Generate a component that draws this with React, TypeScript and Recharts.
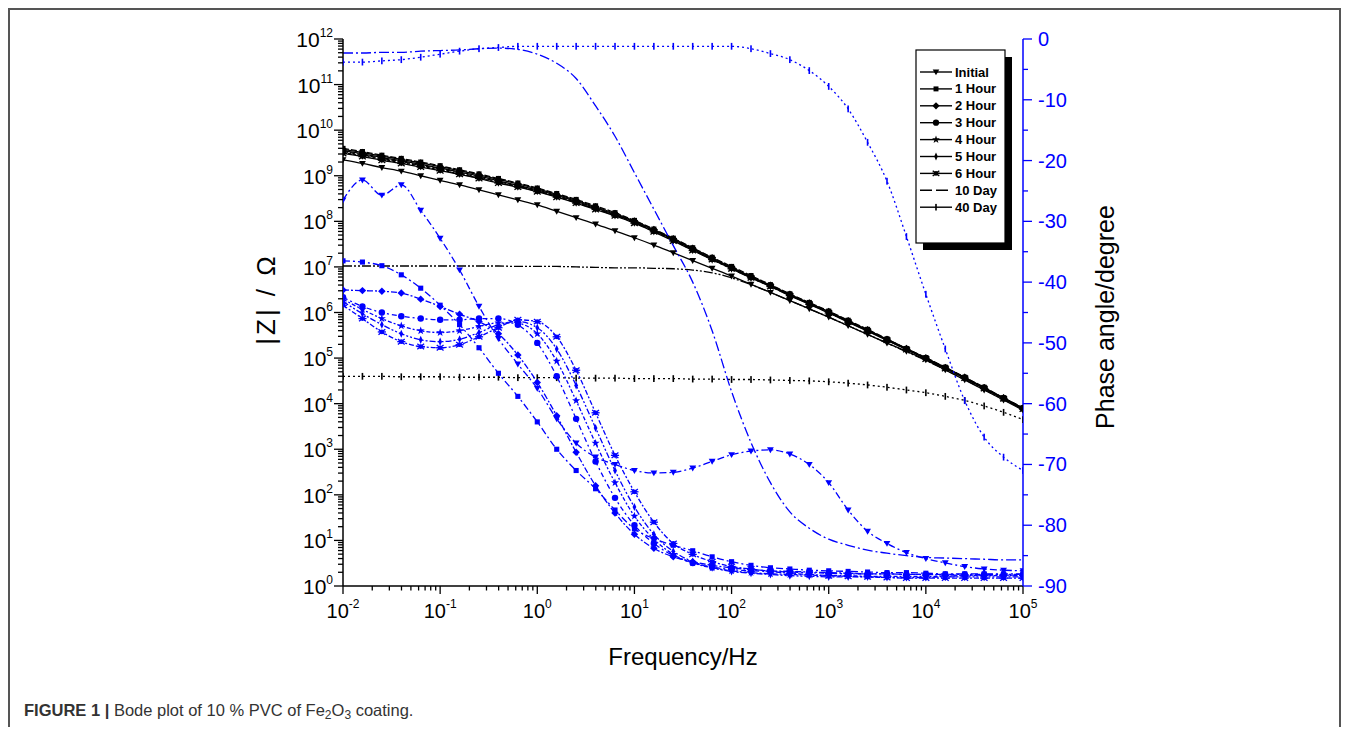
import React from "react";
import { LineChart, Line, XAxis, YAxis } from "recharts";

const FONT = "'Liberation Sans', Arial, Helvetica, sans-serif";
const BLUE = "#0000ff";

// ---------- DATA ----------
const freqHz = [
  0.01, 0.01585, 0.02512, 0.03981, 0.0631, 0.1, 0.1585, 0.2512, 0.3981, 0.631,
  1, 1.585, 2.512, 3.981, 6.31, 10, 15.85, 25.12, 39.81, 63.1,
  100, 158.5, 251.2, 398.1, 631, 1000, 1585, 2512, 3981, 6310,
  10000, 15850, 25120, 39810, 63100, 100000,
];

const seriesNames = ["Initial", "1 Hour", "2 Hour", "3 Hour", "4 Hour", "5 Hour", "6 Hour", "10 Day", "40 Day"];

// log10(|Z| / Ohm)
const logZInitial = [9.35, 9.27, 9.18, 9.10, 9.00, 8.90, 8.80, 8.69, 8.58, 8.47, 8.36, 8.22, 8.08, 7.94, 7.79, 7.64, 7.48, 7.31, 7.14, 6.97, 6.80, 6.62, 6.44, 6.26, 6.08, 5.90, 5.71, 5.52, 5.33, 5.15, 4.96, 4.74, 4.52, 4.30, 4.08, 3.86];
const logZ1h = [9.60, 9.53, 9.45, 9.38, 9.30, 9.22, 9.13, 9.04, 8.94, 8.84, 8.73, 8.61, 8.48, 8.34, 8.19, 8.02, 7.83, 7.63, 7.42, 7.21, 7.01, 6.81, 6.61, 6.41, 6.22, 6.03, 5.83, 5.63, 5.42, 5.21, 5.01, 4.80, 4.58, 4.36, 4.13, 3.91];
const logZ2h = [9.58, 9.51, 9.43, 9.36, 9.28, 9.20, 9.11, 9.02, 8.92, 8.82, 8.71, 8.59, 8.46, 8.32, 8.17, 8.01, 7.82, 7.62, 7.41, 7.20, 6.99, 6.79, 6.60, 6.40, 6.21, 6.02, 5.82, 5.62, 5.41, 5.21, 5.00, 4.79, 4.58, 4.35, 4.13, 3.90];
const logZ3h = [9.55, 9.48, 9.40, 9.33, 9.25, 9.17, 9.08, 8.99, 8.89, 8.79, 8.69, 8.57, 8.44, 8.30, 8.15, 7.99, 7.80, 7.60, 7.39, 7.18, 6.98, 6.78, 6.59, 6.39, 6.20, 6.01, 5.81, 5.61, 5.41, 5.20, 5.00, 4.79, 4.57, 4.35, 4.12, 3.90];
const logZ4h = [9.53, 9.46, 9.38, 9.31, 9.23, 9.15, 9.06, 8.97, 8.87, 8.77, 8.67, 8.55, 8.42, 8.28, 8.14, 7.98, 7.79, 7.59, 7.38, 7.17, 6.97, 6.77, 6.58, 6.38, 6.19, 6.00, 5.80, 5.60, 5.40, 5.20, 4.99, 4.78, 4.57, 4.34, 4.12, 3.89];
const logZ5h = [9.51, 9.44, 9.36, 9.29, 9.21, 9.13, 9.04, 8.95, 8.85, 8.76, 8.66, 8.54, 8.41, 8.27, 8.13, 7.97, 7.78, 7.58, 7.37, 7.16, 6.96, 6.76, 6.57, 6.38, 6.19, 6.00, 5.80, 5.60, 5.40, 5.19, 4.99, 4.78, 4.56, 4.34, 4.11, 3.89];
const logZ6h = [9.49, 9.42, 9.34, 9.27, 9.19, 9.11, 9.03, 8.94, 8.84, 8.75, 8.65, 8.53, 8.40, 8.26, 8.12, 7.96, 7.77, 7.57, 7.36, 7.16, 6.96, 6.76, 6.57, 6.37, 6.18, 5.99, 5.79, 5.59, 5.39, 5.19, 4.98, 4.77, 4.56, 4.33, 4.11, 3.88];
const logZ10d = [7.02, 7.02, 7.02, 7.02, 7.02, 7.02, 7.02, 7.02, 7.02, 7.01, 7.01, 7.01, 7.00, 6.99, 6.98, 6.98, 6.97, 6.96, 6.93, 6.87, 6.76, 6.61, 6.44, 6.26, 6.08, 5.90, 5.71, 5.52, 5.33, 5.14, 4.95, 4.74, 4.53, 4.31, 4.09, 3.88];
const logZ40d = [4.60, 4.60, 4.60, 4.59, 4.59, 4.59, 4.58, 4.58, 4.58, 4.57, 4.57, 4.57, 4.56, 4.56, 4.56, 4.55, 4.55, 4.55, 4.54, 4.54, 4.53, 4.53, 4.52, 4.51, 4.50, 4.48, 4.45, 4.41, 4.36, 4.30, 4.24, 4.16, 4.07, 3.95, 3.81, 3.65];

// Phase angle, degree
const phInitial = [-26.5, -23.2, -25.7, -24.0, -28.2, -32.8, -38.0, -44.0, -49.3, -53.5, -57.5, -62.5, -66.5, -68.8, -70.0, -71.0, -71.4, -71.3, -70.6, -69.5, -68.4, -67.8, -67.6, -68.3, -70.0, -73.0, -77.5, -81.0, -83.0, -84.5, -85.5, -86.2, -86.8, -87.2, -87.4, -87.5];
const ph1h = [-36.5, -36.7, -37.3, -38.8, -41.0, -43.8, -47.0, -50.8, -55.0, -58.8, -63.0, -67.5, -71.0, -74.0, -77.5, -80.6, -82.2, -83.3, -84.2, -85.2, -86.0, -86.6, -87.0, -87.2, -87.4, -87.5, -87.6, -87.7, -87.8, -87.8, -87.9, -88.0, -88.0, -88.0, -88.0, -88.0];
const ph2h = [-41.3, -41.4, -41.5, -41.8, -42.8, -44.0, -45.3, -46.5, -48.5, -52.0, -56.5, -62.0, -68.0, -73.5, -78.0, -81.5, -83.8, -85.2, -86.0, -86.6, -87.0, -87.3, -87.5, -87.6, -87.7, -87.8, -87.9, -88.0, -88.0, -88.1, -88.1, -88.2, -88.2, -88.2, -88.2, -88.2];
const ph3h = [-42.5, -44.0, -45.0, -45.6, -46.0, -46.2, -46.2, -46.0, -46.0, -47.0, -50.0, -55.5, -62.5, -69.5, -75.5, -80.0, -83.0, -85.0, -86.2, -86.9, -87.3, -87.5, -87.6, -87.7, -87.8, -87.9, -88.0, -88.0, -88.0, -88.1, -88.1, -88.1, -88.1, -88.1, -88.1, -88.1];
const ph4h = [-42.8, -44.5, -46.0, -47.2, -48.0, -48.3, -48.0, -47.3, -46.7, -46.8, -48.5, -53.0, -59.5, -66.5, -73.0, -78.5, -82.3, -84.8, -86.2, -87.0, -87.5, -87.8, -88.0, -88.1, -88.2, -88.3, -88.3, -88.4, -88.4, -88.4, -88.4, -88.4, -88.3, -88.3, -88.3, -88.3];
const ph5h = [-43.2, -45.2, -47.0, -48.5, -49.5, -49.8, -49.4, -48.3, -47.0, -46.5, -47.5, -51.0, -57.0, -64.0, -71.0, -77.0, -81.5, -84.3, -86.0, -87.0, -87.6, -87.9, -88.1, -88.3, -88.4, -88.5, -88.5, -88.5, -88.6, -88.6, -88.6, -88.5, -88.5, -88.5, -88.5, -88.5];
const ph6h = [-43.8, -46.0, -48.2, -49.8, -50.6, -50.8, -50.3, -49.0, -47.5, -46.2, -46.5, -49.0, -54.5, -61.5, -68.5, -74.5, -79.5, -83.0, -84.8, -86.0, -86.8, -87.2, -87.6, -87.9, -88.1, -88.3, -88.4, -88.5, -88.6, -88.7, -88.7, -88.7, -88.7, -88.7, -88.7, -88.7];
const ph10d = [-2.3, -2.3, -2.2, -2.2, -2.0, -1.9, -1.8, -1.6, -1.5, -1.7, -2.5, -4.0, -6.5, -11.0, -16.0, -22.0, -28.0, -34.0, -40.0, -48.0, -58.0, -66.4, -73.0, -77.8, -80.5, -82.3, -83.3, -84.1, -84.6, -85.0, -85.3, -85.4, -85.5, -85.6, -85.7, -85.7];
const ph40d = [-3.8, -3.8, -3.6, -3.4, -3.0, -2.5, -2.0, -1.6, -1.4, -1.2, -1.2, -1.2, -1.2, -1.2, -1.2, -1.2, -1.2, -1.2, -1.2, -1.2, -1.2, -1.6, -2.4, -3.4, -5.2, -7.8, -11.5, -17.0, -23.4, -32.5, -42.0, -51.0, -59.5, -65.5, -68.8, -71.0];

const xMajorTicks = [0.01, 0.1, 1, 10, 100, 1000, 10000, 100000];
const zMajorTicks = [1, 10, 100, 1e3, 1e4, 1e5, 1e6, 1e7, 1e8, 1e9, 1e10, 1e11, 1e12];
const phaseTicks = [-90, -85, -80, -75, -70, -65, -60, -55, -50, -45, -40, -35, -30, -25, -20, -15, -10, -5, 0];
const minorMultipliers = [2, 3, 4, 5, 6, 7, 8, 9];

// ---------- BUILD TABLE ----------
const zLogs = [logZInitial, logZ1h, logZ2h, logZ3h, logZ4h, logZ5h, logZ6h, logZ10d, logZ40d];
const phases = [phInitial, ph1h, ph2h, ph3h, ph4h, ph5h, ph6h, ph10d, ph40d];
const table = freqHz.map((f, i) => {
  const row: any = { f };
  seriesNames.forEach((_, k) => {
    row[`z${k}`] = Math.pow(10, zLogs[k][i]);
    row[`p${k}`] = phases[k][i];
  });
  return row;
});
const withMinor = (majors: number[]) => {
  const out: number[] = [];
  majors.forEach((m, i) => {
    out.push(m);
    if (i < majors.length - 1) minorMultipliers.forEach((k) => out.push(k * m));
  });
  return out;
};
const xTicks = withMinor(xMajorTicks);
const zTicks = withMinor(zMajorTicks);

// ---------- STYLES ----------
type Shape = "tri" | "sq" | "dia" | "cir" | "star" | "vdia" | "ast" | "none" | "bar";
const markerShapes: Shape[] = ["tri", "sq", "dia", "cir", "star", "vdia", "ast", "none", "bar"];
const zDash: (string | undefined)[] = [undefined, "6 2", undefined, undefined, "5 2", "3 2", undefined, "9 2 2 2 2 2", "2 3"];
const phDash: string[] = ["7 3 2 3", "7 3 2 3", "6 2 2 2", "5 3 2 3", "4 2 2 2", "6 2 2 2 2 2", "5 2 2 2", "10 3 2 3", "2 3"];

function Marker({ shape, x, y, color, s }: { shape: Shape; x: number; y: number; color: string; s: number }) {
  switch (shape) {
    case "tri":
      return <polygon points={`${x - s},${y - s * 0.75} ${x + s},${y - s * 0.75} ${x},${y + s}`} fill={color} />;
    case "sq":
      return <rect x={x - s * 0.75} y={y - s * 0.75} width={s * 1.5} height={s * 1.5} fill={color} />;
    case "dia":
      return <polygon points={`${x},${y - s * 1.1} ${x + s * 1.1},${y} ${x},${y + s * 1.1} ${x - s * 1.1},${y}`} fill={color} />;
    case "cir":
      return <circle cx={x} cy={y} r={s * 0.95} fill={color} />;
    case "star": {
      let pts = "";
      for (let k = 0; k < 10; k++) {
        const r = k % 2 === 0 ? s * 1.25 : s * 0.5;
        const a = -Math.PI / 2 + (k * Math.PI) / 5;
        pts += `${x + r * Math.cos(a)},${y + r * Math.sin(a)} `;
      }
      return <polygon points={pts} fill={color} />;
    }
    case "vdia":
      return <polygon points={`${x},${y - s * 1.2} ${x + s * 0.55},${y} ${x},${y + s * 1.2} ${x - s * 0.55},${y}`} fill={color} />;
    case "ast":
      return (
        <g stroke={color} strokeWidth={1.3}>
          <line x1={x - s} y1={y - s * 0.8} x2={x + s} y2={y + s * 0.8} />
          <line x1={x - s} y1={y + s * 0.8} x2={x + s} y2={y - s * 0.8} />
          <line x1={x - s * 1.2} y1={y} x2={x + s * 1.2} y2={y} />
          <circle cx={x} cy={y} r={s * 0.5} fill={color} />
        </g>
      );
    case "bar":
      return <rect x={x - 0.8} y={y - s} width={1.6} height={2 * s} fill={color} />;
    default:
      return null;
  }
}

const dotFor = (shape: Shape, color: string, s: number, tag: string) => (p: any) => {
  const { cx, cy, index } = p;
  if (cx == null || cy == null || Number.isNaN(cx) || Number.isNaN(cy)) return <g key={`${tag}n${index}`} />;
  return (
    <g key={`${tag}${index}`}>
      <Marker shape={shape} x={cx} y={cy} color={color} s={s} />
    </g>
  );
};

const isMajor = (v: number) => Math.abs(Math.log10(v) - Math.round(Math.log10(v))) < 1e-9;
const expOf = (v: number) => Math.round(Math.log10(v));

const BottomTick = (p: any) => {
  const { x, y, payload } = p;
  const v = payload.value;
  const maj = isMajor(v);
  return (
    <g>
      <line x1={x} x2={x} y1={y} y2={y + (maj ? 8 : 4.5)} stroke="#000" strokeWidth={1.3} />
      {maj && (
        <text x={x} y={y + 32} textAnchor="middle" fontSize={20} fill="#000" fontFamily={FONT}>
          10
          <tspan dy={-10} fontSize={12}>{expOf(v)}</tspan>
        </text>
      )}
    </g>
  );
};
const TopTick = (p: any) => {
  const { x, y, payload } = p;
  const maj = isMajor(payload.value);
  return <line x1={x} x2={x} y1={y} y2={y + (maj ? 8 : 4.5)} stroke="#000" strokeWidth={1.3} />;
};
const LeftTick = (p: any) => {
  const { x, y, payload } = p;
  const v = payload.value;
  const maj = isMajor(v);
  return (
    <g>
      <line x1={x - (maj ? 9 : 5)} x2={x} y1={y} y2={y} stroke="#000" strokeWidth={1.3} />
      {maj && (
        <text x={x - 10} y={y + 8} textAnchor="end" fontSize={21} fill="#000" fontFamily={FONT}>
          10
          <tspan dy={-10} fontSize={12}>{expOf(v)}</tspan>
        </text>
      )}
    </g>
  );
};
const RightTick = (p: any) => {
  const { x, y, payload } = p;
  const v = payload.value;
  const maj = v % 10 === 0;
  return (
    <g>
      <line x1={x} x2={x + (maj ? 9 : 5)} y1={y} y2={y} stroke={BLUE} strokeWidth={1.3} />
      {maj && (
        <text x={x + 15} y={y + 7} textAnchor="start" fontSize={20} fill={BLUE} fontFamily={FONT}>
          {v}
        </text>
      )}
    </g>
  );
};

const legendDash: (string | undefined)[] = [undefined, undefined, undefined, undefined, undefined, undefined, undefined, "12 4", undefined];

export default function App() {
  return (
    <div style={{ position: "relative", width: 1333, height: 719 }}>
      <style>{"html,body{overflow:hidden}"}</style>
      <div
        style={{
          position: "absolute",
          left: 0,
          top: 0,
          width: 1333,
          height: 760,
          boxSizing: "border-box",
          borderTop: "2px solid #555",
          borderLeft: "2px solid #555",
          borderRight: "2px solid #555",
        }}
      />
      <div style={{ position: "absolute", left: -8, top: -8 }}>
        <LineChart width={1349} height={735} data={table} margin={{ top: 39, right: 246, bottom: 109, left: 263 }}>
          <XAxis
            xAxisId="b"
            dataKey="f"
            type="number"
            scale="log"
            domain={[0.01, 100000]}
            allowDataOverflow
            ticks={xTicks}
            interval={0}
            tickSize={0}
            tickMargin={0}
            tickLine={false}
            tick={(p: any) => <BottomTick {...p} />}
            axisLine={{ stroke: "#000", strokeWidth: 1.5 }}
            height={40}
          />
          <XAxis
            xAxisId="t"
            orientation="top"
            dataKey="f"
            type="number"
            scale="log"
            domain={[0.01, 100000]}
            allowDataOverflow
            ticks={xTicks}
            interval={0}
            tickSize={0}
            tickMargin={0}
            tickLine={false}
            tick={(p: any) => <TopTick {...p} />}
            axisLine={{ stroke: "#000", strokeWidth: 1.5 }}
            height={0}
          />
          <YAxis
            yAxisId="z"
            type="number"
            scale="log"
            domain={[1, 1e12]}
            allowDataOverflow
            ticks={zTicks}
            interval={0}
            tickSize={0}
            tickMargin={0}
            tickLine={false}
            tick={(p: any) => <LeftTick {...p} />}
            axisLine={{ stroke: "#000", strokeWidth: 1.5 }}
            width={80}
          />
          <YAxis
            yAxisId="ph"
            orientation="right"
            type="number"
            domain={[-90, 0]}
            allowDataOverflow
            ticks={phaseTicks}
            interval={0}
            tickSize={0}
            tickMargin={0}
            tickLine={false}
            tick={(p: any) => <RightTick {...p} />}
            axisLine={{ stroke: BLUE, strokeWidth: 1.5 }}
            width={80}
          />
          {seriesNames.map((n, k) => (
            <Line
              key={`z${k}`}
              name={`|Z| ${n}`}
              xAxisId="b"
              yAxisId="z"
              dataKey={`z${k}`}
              type="monotone"
              stroke="#000"
              strokeWidth={1.3}
              strokeDasharray={zDash[k]}
              dot={markerShapes[k] === "none" ? false : dotFor(markerShapes[k], "#000", 3.4, `zd${k}-`)}
              activeDot={false}
              isAnimationActive={false}
            />
          ))}
          {seriesNames.map((n, k) => (
            <Line
              key={`p${k}`}
              name={`Phase ${n}`}
              xAxisId="b"
              yAxisId="ph"
              dataKey={`p${k}`}
              type="monotone"
              stroke={BLUE}
              strokeWidth={1.3}
              strokeDasharray={phDash[k]}
              dot={markerShapes[k] === "none" ? false : dotFor(markerShapes[k], BLUE, 3.4, `pd${k}-`)}
              activeDot={false}
              isAnimationActive={false}
            />
          ))}
        </LineChart>
      </div>
      <svg
        width={1349}
        height={735}
        style={{ position: "absolute", left: -8, top: -8, pointerEvents: "none" }}
      >
        <text
          x={266}
          y={299}
          transform="rotate(-90 266 299)"
          textAnchor="middle"
          dominantBaseline="central"
          fontSize={26}
          fontFamily={FONT}
          fill="#000"
          letterSpacing={3}
        >
          |Z| / Ω
        </text>
        <text
          x={1105}
          y={317}
          transform="rotate(-90 1105 317)"
          textAnchor="middle"
          dominantBaseline="central"
          fontSize={25}
          fontFamily={FONT}
          fill="#000"
        >
          Phase angle/degree
        </text>
        <text x={683} y={665} textAnchor="middle" fontSize={24} fontFamily={FONT} fill="#000">
          Frequency/Hz
        </text>
        <g>
          <rect x={923} y={57} width={89} height={193} fill="#000" />
          <rect x={916} y={50} width={89} height={193} fill="#fff" stroke="#000" strokeWidth={1.2} />
          {seriesNames.map((n, k) => {
            const y = 72 + k * 16.9;
            return (
              <g key={`lg${k}`}>
                <line x1={920} x2={952} y1={y} y2={y} stroke="#000" strokeWidth={1.4} strokeDasharray={legendDash[k]} />
                <Marker shape={markerShapes[k]} x={936} y={y} color="#000" s={3.3} />
                <text x={955} y={y + 4.5} fontSize={13} fontWeight="bold" fontFamily={FONT} fill="#000">
                  {n}
                </text>
              </g>
            );
          })}
        </g>
      </svg>
      <div
        style={{
          position: "absolute",
          left: 16,
          top: 693,
          fontSize: 16.5,
          lineHeight: "18px",
          fontFamily: FONT,
          color: "#333",
          whiteSpace: "nowrap",
        }}
      >
        <b>FIGURE 1 |</b> Bode plot of 10 % PVC of Fe
        <sub style={{ fontSize: 12, lineHeight: 0, verticalAlign: "-3px" }}>2</sub>O
        <sub style={{ fontSize: 12, lineHeight: 0, verticalAlign: "-3px" }}>3</sub> coating.
      </div>
    </div>
  );
}
